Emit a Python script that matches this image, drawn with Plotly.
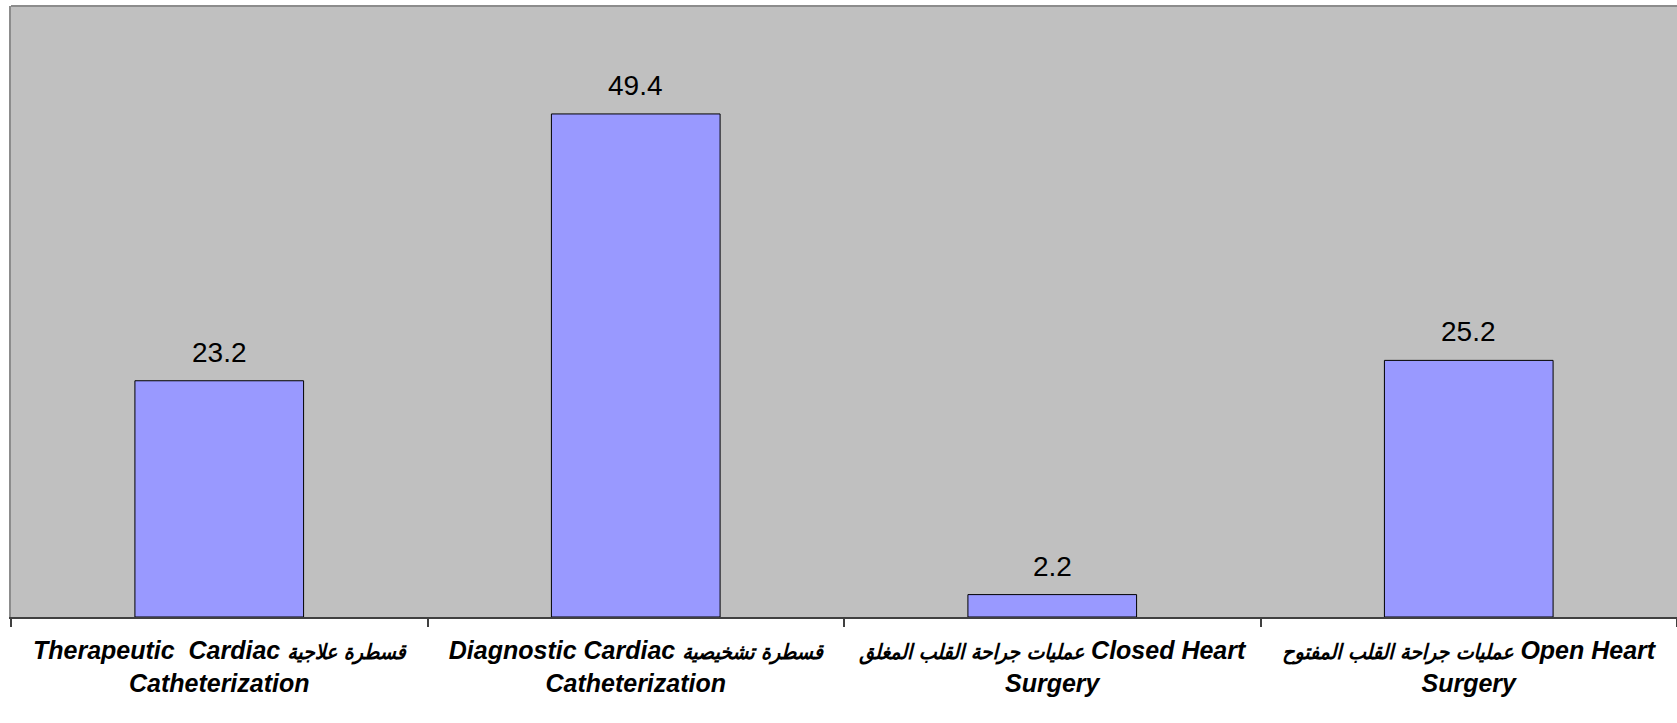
import plotly.graph_objects as go

categories = ["therapeutic", "diagnostic", "closed", "open"]
english1 = ["Therapeutic  Cardiac", "Diagnostic Cardiac", "Closed Heart", "Open Heart"]
arabic1 = ["قسطرة علاجية", "قسطرة تشخيصية", "عمليات جراحة القلب المغلق", "عمليات جراحة القلب المفتوح"]
arabic_first = [False, False, True, True]
line2 = ["Catheterization", "Catheterization", "Surgery", "Surgery"]
values = [23.2, 49.4, 2.2, 25.2]
value_labels = ["23.2", "49.4", "2.2", "25.2"]

AR = "<span style=\"font-size:21px;font-family:'DejaVu Sans Condensed','DejaVu Sans'\">{}</span>"
ticktext = []
for en, ar, af, l2 in zip(english1, arabic1, arabic_first, line2):
    first = (AR.format(ar) + " " + en) if af else (en + " " + AR.format(ar))
    ticktext.append(f"<b><i>{first}</i></b><br><b><i>{l2}</i></b>")

fig = go.Figure()
fig.add_trace(go.Bar(
    x=categories, y=values,
    marker=dict(color="#9999FF", line=dict(color="#000000", width=1)),
    width=0.405,
))
for c, v, t in zip(categories, values, value_labels):
    fig.add_annotation(x=c, y=v, text=t, showarrow=False, yanchor="bottom", yshift=11,
                       font=dict(family="Liberation Sans, Arial, sans-serif", size=28, color="#000000"))

fig.update_layout(
    width=1677, height=723,
    margin=dict(l=11, r=0, t=6, b=106),
    paper_bgcolor="#FFFFFF",
    plot_bgcolor="#C0C0C0",
    showlegend=False,
    font=dict(family="Liberation Sans, Arial, DejaVu Sans, sans-serif", color="#000000"),
    shapes=[dict(type="line", xref="paper", yref="paper", x0=0, x1=1, y0=1, y1=1,
                 line=dict(color="#8C8C8C", width=2))],
)
fig.update_xaxes(
    tickmode="array", tickvals=categories, ticktext=ticktext, automargin=False,
    tickfont=dict(family="Liberation Sans, Arial, DejaVu Sans, sans-serif", size=25, color="#000000"),
    ticklabelstandoff=10,
    showline=True, linecolor="#404040", linewidth=2,
    ticks="outside", tickson="boundaries", ticklen=8, tickcolor="#404040", tickwidth=2,
    showgrid=False, zeroline=False,
)
fig.update_yaxes(
    range=[0, 60], showticklabels=False, showgrid=False, zeroline=False, automargin=False,
    showline=True, linecolor="#8C8C8C", linewidth=2, ticks="",
)

fig.write_html("out.html", config={"displayModeBar": False},
               post_script="document.body.style.margin='0';document.documentElement.style.overflow='hidden';")
